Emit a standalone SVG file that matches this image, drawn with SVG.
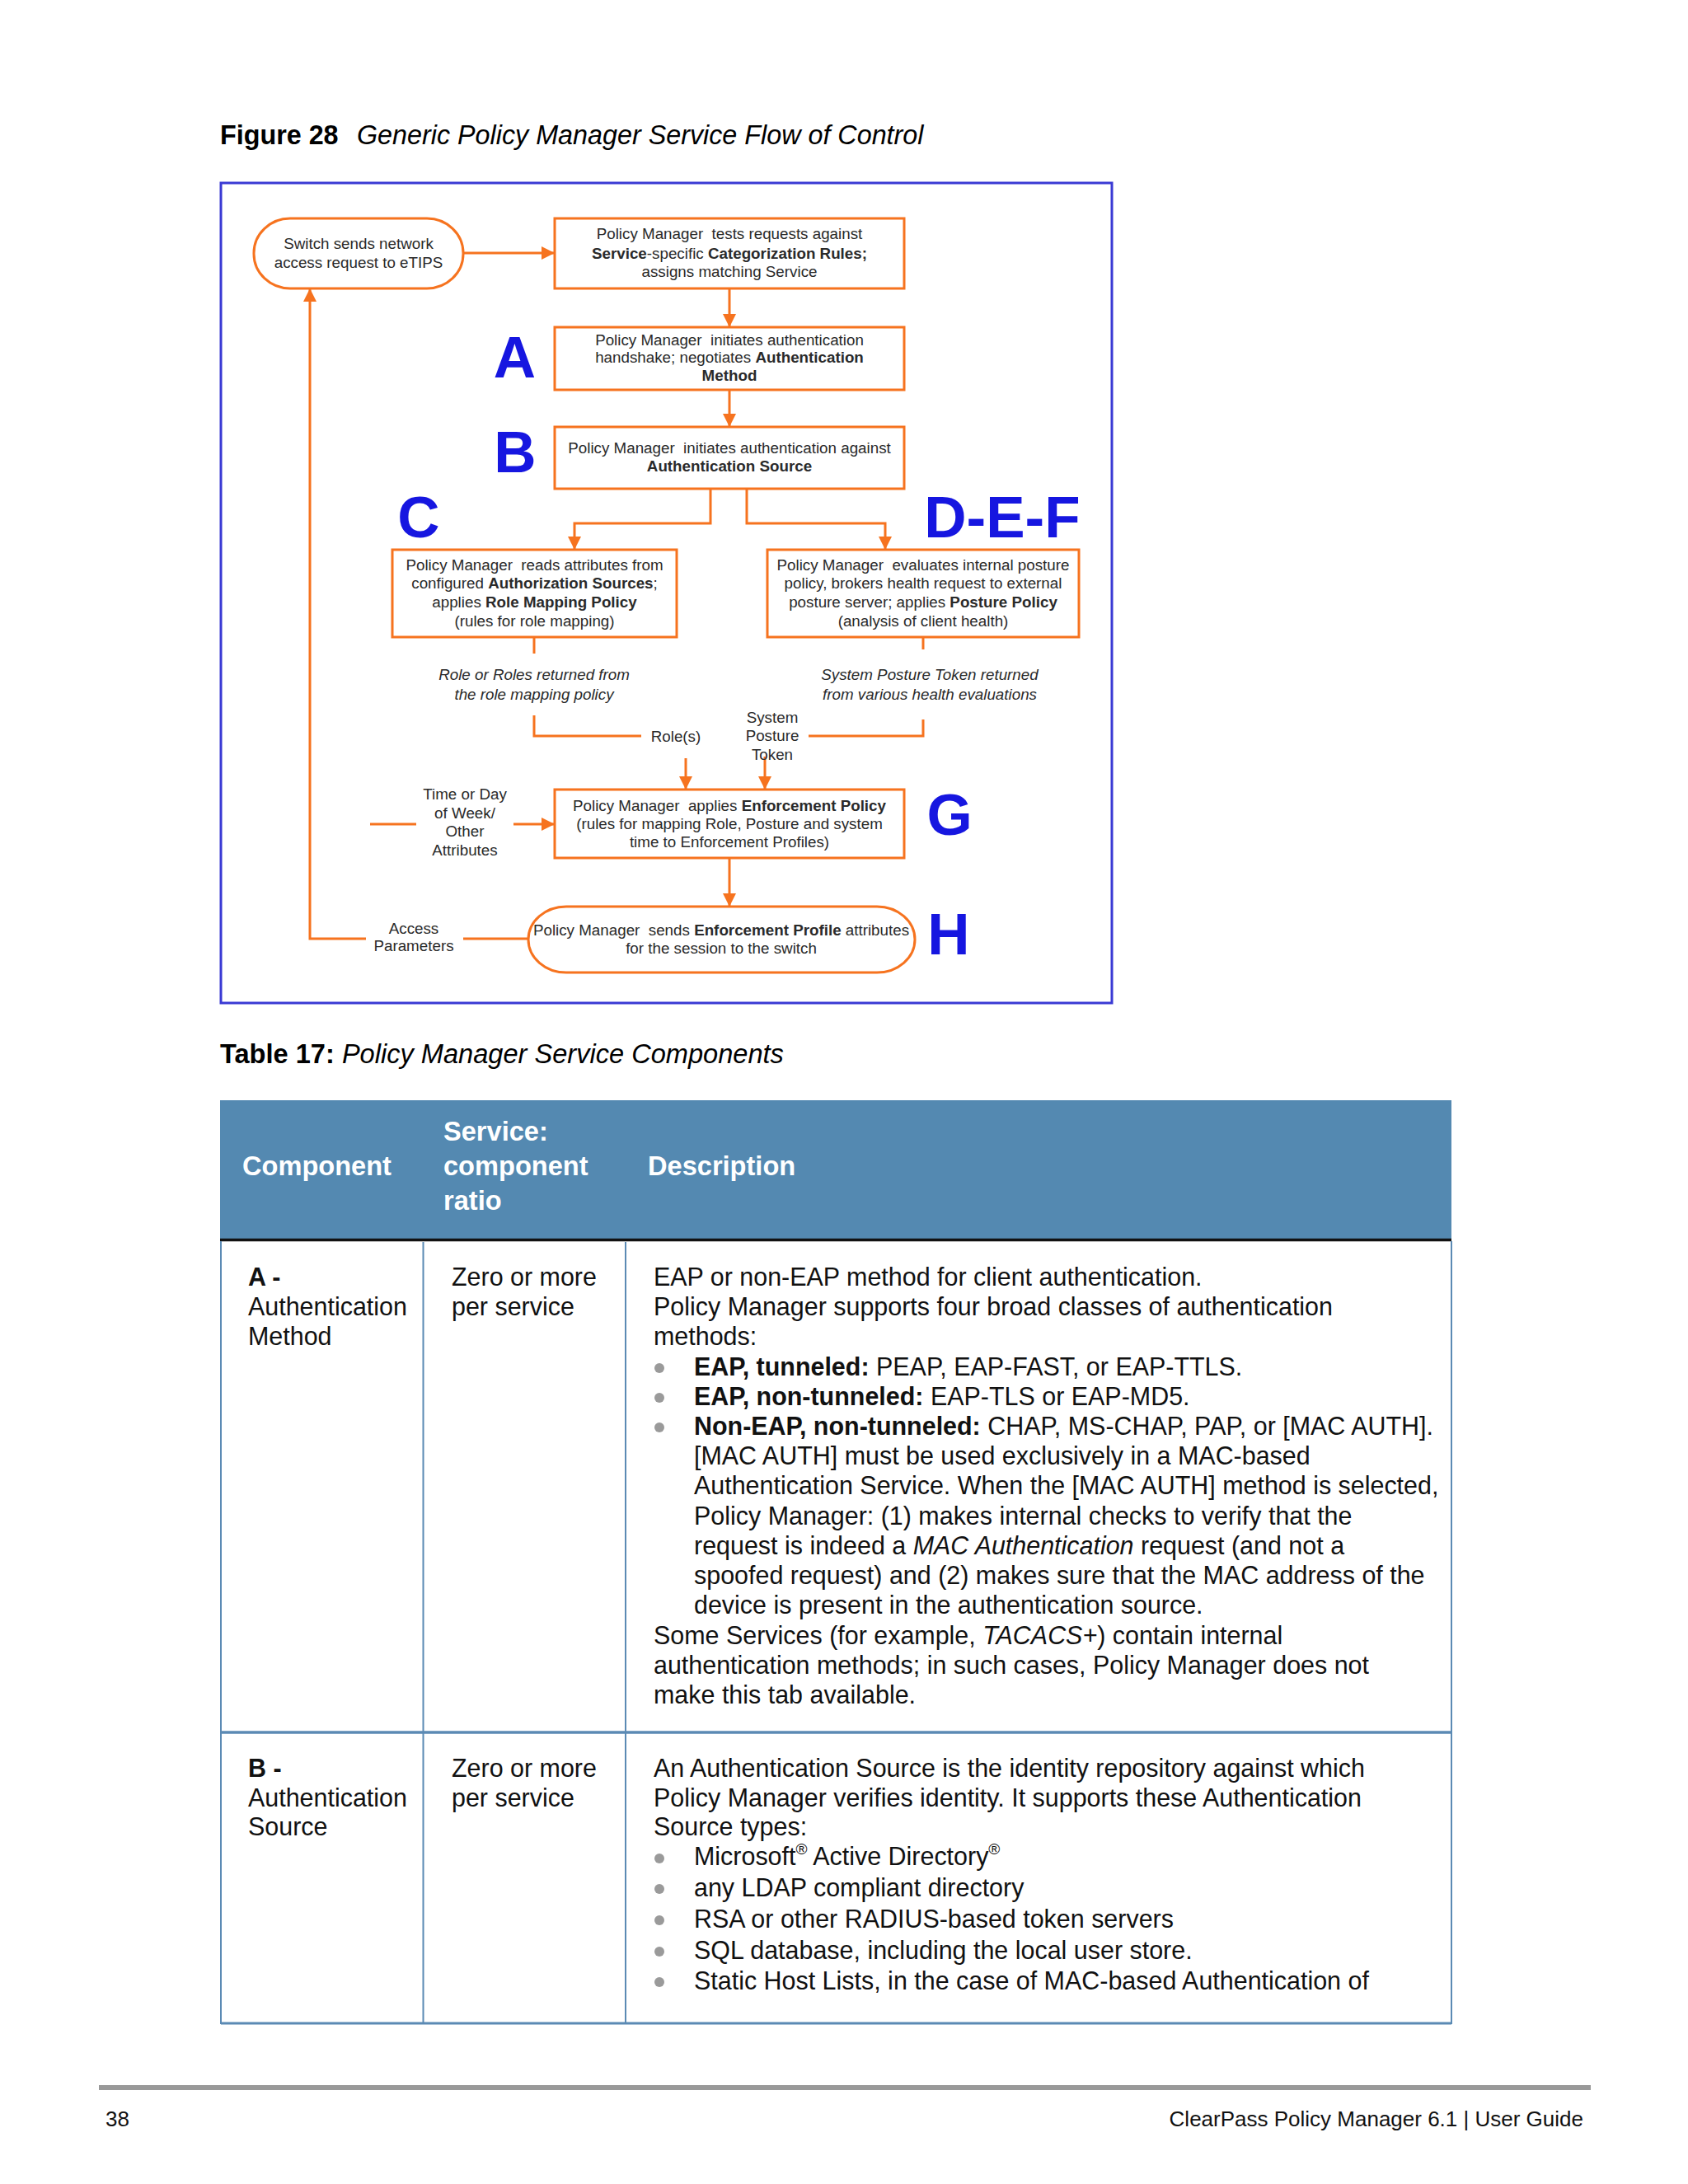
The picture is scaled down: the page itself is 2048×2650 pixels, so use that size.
<svg xmlns="http://www.w3.org/2000/svg" width="2048" height="2650" viewBox="0 0 2048 2650">
<defs>
<style>
.d{font-family:"Liberation Sans",Arial,sans-serif;font-size:18.8px;fill:#2a2a2a;text-anchor:middle}
.i{font-style:italic}
.b{font-weight:bold}
.big{font-family:"Liberation Sans",Arial,sans-serif;font-size:71px;font-weight:bold;fill:#1616e0;text-anchor:middle}
.box{fill:#fff;stroke:#f6731f;stroke-width:3}
.ln{fill:none;stroke:#f6731f;stroke-width:3}
.t{font-family:"Liberation Sans",Arial,sans-serif;font-size:30.45px;fill:#111}
.h{font-family:"Liberation Sans",Arial,sans-serif;font-size:32.6px;font-weight:bold;fill:#fff}
.ttl{font-family:"Liberation Sans",Arial,sans-serif;font-size:32.3px;fill:#000}
.tt2{font-family:"Liberation Sans",Arial,sans-serif;font-size:32.6px;fill:#000}
.tb{fill:none;stroke:#5b8ab4;stroke-width:2}
.bul{fill:#9a9a9a}
.ft{font-family:"Liberation Sans",Arial,sans-serif;font-size:26px;fill:#111}
</style>
<marker id="ah" viewBox="0 0 16 16" refX="16" refY="8" markerWidth="16" markerHeight="16" markerUnits="userSpaceOnUse" orient="auto">
<path d="M0,0 L16,8 L0,16 z" fill="#f6731f"/>
</marker>
</defs>
<rect width="2048" height="2650" fill="#fff"/>

<text class="ttl" x="267" y="175"><tspan class="b">Figure 28</tspan><tspan class="i" x="433">Generic Policy Manager Service Flow of Control</tspan></text>

<rect x="268" y="222" width="1081" height="995" fill="#fff" stroke="#3a3ad4" stroke-width="3"/>

<g id="connectors">
<line class="ln" x1="562" y1="307" x2="673" y2="307" marker-end="url(#ah)"/>
<line class="ln" x1="885" y1="350" x2="885" y2="397" marker-end="url(#ah)"/>
<line class="ln" x1="885" y1="473" x2="885" y2="518" marker-end="url(#ah)"/>
<polyline class="ln" points="862,593 862,635 697,635 697,667" marker-end="url(#ah)"/>
<polyline class="ln" points="906,593 906,635 1074,635 1074,667" marker-end="url(#ah)"/>
<line class="ln" x1="648" y1="773" x2="648" y2="793"/>
<polyline class="ln" points="648,868 648,893 778,893"/>
<line class="ln" x1="832" y1="920" x2="832" y2="958" marker-end="url(#ah)"/>
<line class="ln" x1="1120" y1="773" x2="1120" y2="788"/>
<polyline class="ln" points="1120,873 1120,893 981,893"/>
<line class="ln" x1="928" y1="918" x2="928" y2="958" marker-end="url(#ah)"/>
<line class="ln" x1="449" y1="1000" x2="505" y2="1000"/>
<line class="ln" x1="623" y1="1000" x2="673" y2="1000" marker-end="url(#ah)"/>
<line class="ln" x1="885" y1="1041" x2="885" y2="1100" marker-end="url(#ah)"/>
<line class="ln" x1="641" y1="1139" x2="562" y2="1139"/>
<polyline class="ln" points="444,1139 376,1139 376,350" marker-end="url(#ah)"/>
</g>

<g id="switch">
<rect class="box" x="308" y="265" width="254" height="85" rx="44" ry="42"/>
<text class="d" x="435" y="301.5">Switch sends network</text>
<text class="d" x="435" y="324.5">access request to eTIPS</text>
</g>

<g id="categorize">
<rect class="box" x="673" y="265" width="424" height="85"/>
<text class="d" x="885" y="289.5" xml:space="preserve">Policy Manager  tests requests against</text>
<text class="d" x="885" y="313.5"><tspan class="b">Service</tspan>-specific <tspan class="b">Categorization Rules;</tspan></text>
<text class="d" x="885" y="335.5">assigns matching Service</text>
</g>

<g id="authmethod">
<text class="big" x="624.5" y="458">A</text>
<rect class="box" x="673" y="397" width="424" height="76"/>
<text class="d" x="885" y="418.5" xml:space="preserve">Policy Manager  initiates authentication</text>
<text class="d" x="885" y="440">handshake; negotiates <tspan class="b">Authentication</tspan></text>
<text class="d" x="885" y="462"><tspan class="b">Method</tspan></text>
</g>

<g id="authsource">
<text class="big" x="625" y="573">B</text>
<rect class="box" x="673" y="518" width="424" height="75"/>
<text class="d" x="885" y="549.5" xml:space="preserve">Policy Manager  initiates authentication against</text>
<text class="d" x="885" y="571.5"><tspan class="b">Authentication Source</tspan></text>
</g>

<g id="authorization">
<text class="big" x="508" y="652">C</text>
<rect class="box" x="476" y="667" width="345" height="106"/>
<text class="d" x="648.5" y="691.5" xml:space="preserve">Policy Manager  reads attributes from</text>
<text class="d" x="648.5" y="714">configured <tspan class="b">Authorization Sources</tspan>;</text>
<text class="d" x="648.5" y="736.5">applies <tspan class="b">Role Mapping Policy</tspan></text>
<text class="d" x="648.5" y="759.5">(rules for role mapping)</text>
<text class="d i" x="648" y="824.5">Role or Roles returned from</text>
<text class="d i" x="648" y="848.5">the role mapping policy</text>
<text class="d" x="820" y="899.5">Role(s)</text>
</g>

<g id="posture">
<text class="big" x="1216" y="652">D-E-F</text>
<rect class="box" x="931" y="667" width="378" height="106"/>
<text class="d" x="1120" y="691.5" xml:space="preserve">Policy Manager  evaluates internal posture</text>
<text class="d" x="1120" y="714">policy, brokers health request to external</text>
<text class="d" x="1120" y="736.5">posture server; applies <tspan class="b">Posture Policy</tspan></text>
<text class="d" x="1120" y="759.5">(analysis of client health)</text>
<text class="d i" x="1128" y="824.5">System Posture Token returned</text>
<text class="d i" x="1128" y="848.5">from various health evaluations</text>
<text class="d" x="937" y="876.5">System</text>
<text class="d" x="937" y="898.5">Posture</text>
<text class="d" x="937" y="921.5">Token</text>
</g>

<g id="enforcement">
<text class="big" x="1152" y="1013">G</text>
<rect class="box" x="673" y="958" width="424" height="83"/>
<text class="d" x="885" y="983.5" xml:space="preserve">Policy Manager  applies <tspan class="b">Enforcement Policy</tspan></text>
<text class="d" x="885" y="1005.5">(rules for mapping Role, Posture and system</text>
<text class="d" x="885" y="1027.5">time to Enforcement Profiles)</text>
<text class="d" x="564" y="969.5">Time or Day</text>
<text class="d" x="564" y="992.5">of Week/</text>
<text class="d" x="564" y="1014.5">Other</text>
<text class="d" x="564" y="1037.5">Attributes</text>
</g>

<g id="sendprofile">
<text class="big" x="1151" y="1158">H</text>
<rect class="box" x="641" y="1100" width="469" height="80" rx="46" ry="40"/>
<text class="d" x="875" y="1134.5" xml:space="preserve">Policy Manager  sends <tspan class="b">Enforcement Profile</tspan> attributes</text>
<text class="d" x="875" y="1156.5">for the session to the switch</text>
<text class="d" x="502" y="1132.5">Access</text>
<text class="d" x="502" y="1153.5">Parameters</text>
</g>

<text class="tt2" x="267" y="1290"><tspan class="b">Table 17:</tspan> <tspan class="i">Policy Manager Service Components</tspan></text>

<g id="table">
<rect x="267" y="1335" width="1494" height="169" fill="#5489b1"/>
<text class="h" x="294" y="1426">Component</text>
<text class="h" x="538" y="1384">Service:</text>
<text class="h" x="538" y="1426">component</text>
<text class="h" x="538" y="1468">ratio</text>
<text class="h" x="786" y="1426">Description</text>
<line x1="267" y1="1504.5" x2="1761" y2="1504.5" stroke="#111" stroke-width="3.5"/>
<polyline class="tb" points="268,1506 268,2455 1761,2455 1761,1506"/>
<line class="tb" x1="513.5" y1="1507" x2="513.5" y2="2455"/>
<line class="tb" x1="759" y1="1507" x2="759" y2="2455"/>
<line x1="268" y1="2102" x2="1761" y2="2102" stroke="#5b8ab4" stroke-width="3.5"/>
<line x1="268" y1="2455" x2="1761" y2="2455" stroke="#5b8ab4" stroke-width="3"/>

<text class="t b" x="301" y="1560">A -</text>
<text class="t" x="301" y="1596">Authentication</text>
<text class="t" x="301" y="1632">Method</text>
<text class="t" x="548" y="1560">Zero or more</text>
<text class="t" x="548" y="1596">per service</text>

<text class="t" x="793" y="1560">EAP or non-EAP method for client authentication.</text>
<text class="t" x="793" y="1596">Policy Manager supports four broad classes of authentication</text>
<text class="t" x="793" y="1632">methods:</text>
<circle class="bul" cx="800" cy="1660" r="6"/>
<text class="t" x="842" y="1669"><tspan class="b">EAP, tunneled:</tspan> PEAP, EAP-FAST, or EAP-TTLS.</text>
<circle class="bul" cx="800" cy="1696" r="6"/>
<text class="t" x="842" y="1705"><tspan class="b">EAP, non-tunneled:</tspan> EAP-TLS or EAP-MD5.</text>
<circle class="bul" cx="800" cy="1732" r="6"/>
<text class="t" x="842" y="1741"><tspan class="b">Non-EAP, non-tunneled:</tspan> CHAP, MS-CHAP, PAP, or [MAC AUTH].</text>
<text class="t" x="842" y="1777">[MAC AUTH] must be used exclusively in a MAC-based</text>
<text class="t" x="842" y="1813">Authentication Service. When the [MAC AUTH] method is selected,</text>
<text class="t" x="842" y="1849.5">Policy Manager: (1) makes internal checks to verify that the</text>
<text class="t" x="842" y="1886">request is indeed a <tspan class="i">MAC Authentication</tspan> request (and not a</text>
<text class="t" x="842" y="1922">spoofed request) and (2) makes sure that the MAC address of the</text>
<text class="t" x="842" y="1958">device is present in the authentication source.</text>
<text class="t" x="793" y="1994.5">Some Services (for example, <tspan class="i">TACACS+</tspan>) contain internal</text>
<text class="t" x="793" y="2030.5">authentication methods; in such cases, Policy Manager does not</text>
<text class="t" x="793" y="2067">make this tab available.</text>

<text class="t b" x="301" y="2156">B -</text>
<text class="t" x="301" y="2192">Authentication</text>
<text class="t" x="301" y="2227">Source</text>
<text class="t" x="548" y="2156">Zero or more</text>
<text class="t" x="548" y="2192">per service</text>

<text class="t" x="793" y="2156">An Authentication Source is the identity repository against which</text>
<text class="t" x="793" y="2192">Policy Manager verifies identity. It supports these Authentication</text>
<text class="t" x="793" y="2227">Source types:</text>
<circle class="bul" cx="800" cy="2255" r="6"/>
<text class="t" x="842" y="2263">Microsoft<tspan font-size="19" dy="-13">®</tspan><tspan dy="13"> Active Directory</tspan><tspan font-size="19" dy="-13">®</tspan></text>
<circle class="bul" cx="800" cy="2292" r="6"/>
<text class="t" x="842" y="2301">any LDAP compliant directory</text>
<circle class="bul" cx="800" cy="2330" r="6"/>
<text class="t" x="842" y="2339">RSA or other RADIUS-based token servers</text>
<circle class="bul" cx="800" cy="2368" r="6"/>
<text class="t" x="842" y="2377">SQL database, including the local user store.</text>
<circle class="bul" cx="800" cy="2405" r="6"/>
<text class="t" x="842" y="2414">Static Host Lists, in the case of MAC-based Authentication of</text>
</g>

<g id="footer">
<rect x="120" y="2530" width="1810" height="6" fill="#999"/>
<text class="ft" x="128" y="2580">38</text>
<text class="ft" x="1921" y="2580" text-anchor="end">ClearPass Policy Manager 6.1 | User Guide</text>
</g>
</svg>
